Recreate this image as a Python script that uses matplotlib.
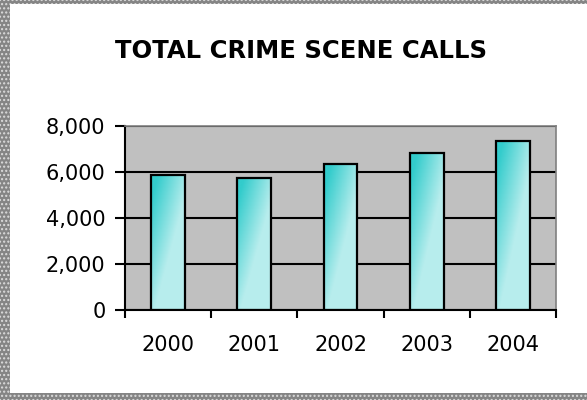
import numpy as np
import matplotlib
matplotlib.use('Agg')
import matplotlib.pyplot as plt
from matplotlib.patches import Rectangle
from matplotlib.ticker import FuncFormatter, FixedLocator

# Data
years = ['2000', '2001', '2002', '2003', '2004']
calls = [5870, 5725, 6335, 6825, 7360]
y_ticks = [0, 2000, 4000, 6000, 8000]

plt.rcParams['font.family'] = ['DejaVu Sans']

fig = plt.figure(figsize=(5.87, 4.0), dpi=100)
fig.patch.set_facecolor('white')

# patterned grey frame (left, top, bottom)
for (x0, y0, w, h) in [(0, 0, 10 / 587, 1), (0, 1 - 4 / 400, 1, 4 / 400), (0, 0, 1, 7 / 400)]:
    fig.patches.append(Rectangle((x0, y0), w, h, transform=fig.transFigure,
                                 facecolor='#858585', edgecolor='#dcdcdc',
                                 hatch='....', linewidth=0, zorder=0))

ax = fig.add_axes([125 / 587, 1 - 310 / 400, 431 / 587, 184 / 400])
ax.set_facecolor('#c0c0c0')

x = np.arange(len(years))
bars = ax.bar(x, calls, width=0.39, facecolor='none', edgecolor='black',
              linewidth=1.6, zorder=3)

# teal gradient fill inside each bar: dark top-left, light towards the bottom
dark = np.array([0.20, 0.80, 0.80])
light = np.array([0.72, 0.93, 0.93])
gx, gy = np.meshgrid(np.linspace(0, 1, 40), np.linspace(0, 1, 120))
t = np.clip((1 - gx) * 1.0 + gy * 1.1 - 0.9, 0, 1)  # gy=1 at top
grad = light[None, None, :] * (1 - t[..., None]) + dark[None, None, :] * t[..., None]
for b in bars:
    x0, w, h = b.get_x(), b.get_width(), b.get_height()
    im = ax.imshow(grad, extent=(x0, x0 + w, 0, h), origin='lower',
                   aspect='auto', zorder=2, interpolation='bilinear')
    im.set_clip_path(b)

ax.set_xlim(-0.5, len(years) - 0.5)
ax.set_ylim(0, 8000)
ax.set_yticks(y_ticks)
ax.yaxis.set_major_formatter(FuncFormatter(lambda v, p: '{:,.0f}'.format(v)))
ax.yaxis.grid(True, color='black', linewidth=1.5, zorder=1)
ax.set_axisbelow(True)

# tick marks on category boundaries, labels centred under the bars
ax.xaxis.set_major_locator(FixedLocator(np.arange(len(years) + 1) - 0.5))
ax.set_xticklabels([])
ax.xaxis.set_minor_locator(FixedLocator(x))
ax.xaxis.set_minor_formatter(FuncFormatter(lambda v, p: years[p] if p < len(years) else ''))
ax.tick_params(axis='x', which='minor', length=0, pad=18, labelsize=15)
ax.tick_params(axis='x', which='major', length=6, width=1.5, direction='out')
ax.tick_params(axis='y', length=7, width=1.5, direction='out', pad=7, labelsize=15)

for side in ['top', 'right']:
    ax.spines[side].set_color('#808080')
    ax.spines[side].set_linewidth(1.2)
for side in ['left', 'bottom']:
    ax.spines[side].set_color('black')
    ax.spines[side].set_linewidth(1.5)

fig.text(301 / 587, 1 - 51 / 400, 'TOTAL CRIME SCENE CALLS', ha='center', va='center',
         fontsize=17.5, fontweight='bold')

fig.savefig('out.png', dpi=100)
